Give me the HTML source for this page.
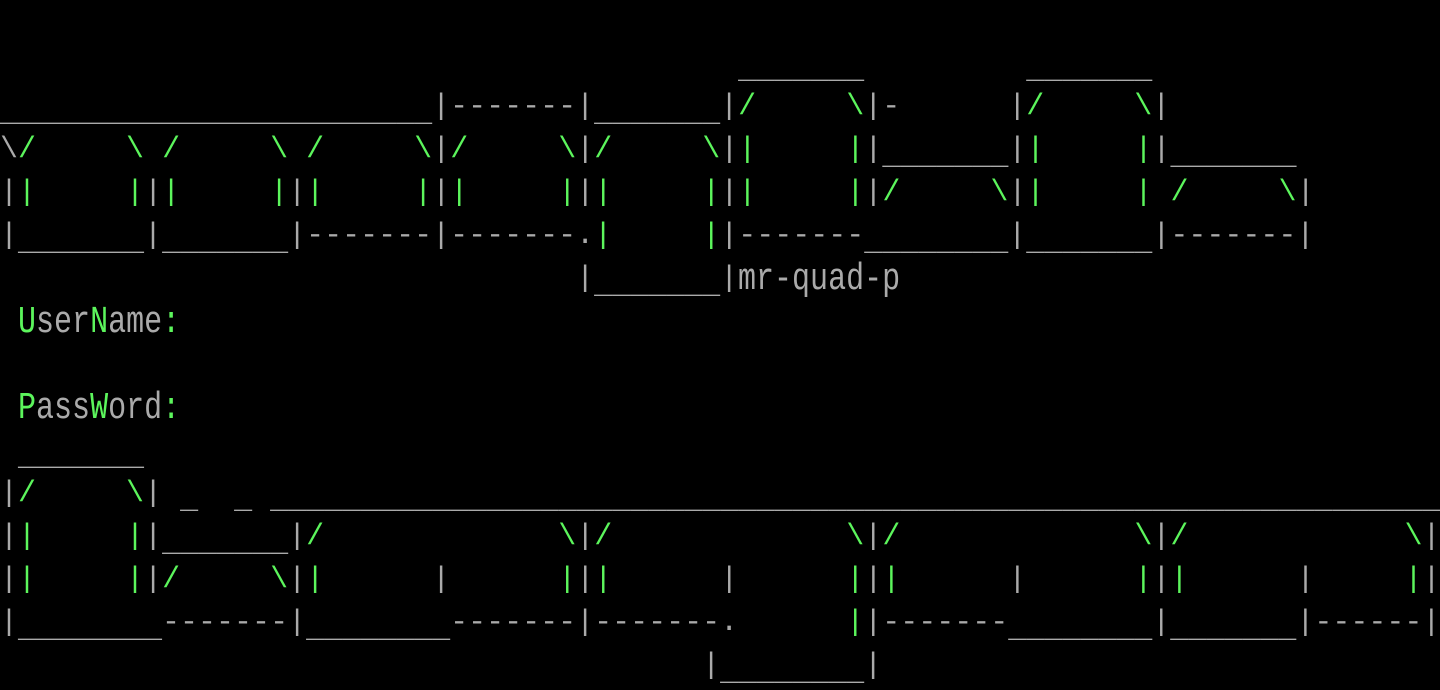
<!DOCTYPE html>
<html><head><meta charset="utf-8">
<style>
html,body{margin:0;padding:0;background:#000;}
#s{position:relative;width:1440px;height:690px;overflow:hidden;background:#000;}
.r{position:absolute;left:0;font-family:"Liberation Mono",monospace;font-size:30px;line-height:43px;height:43px;white-space:pre;color:#aaa;}
.r b{font-weight:normal;color:#5cf55c;}
.r i{font-style:normal;position:relative;top:7px;}
.t{position:absolute;font-family:"Liberation Mono",monospace;font-size:38px;line-height:43px;height:43px;white-space:pre;color:#aaa;transform:scaleX(0.79);transform-origin:0 0;}
.t b{font-weight:normal;color:#5cf55c;}
</style></head><body><div id="s">
<div class="r" style="top:43px">                                         <i>_______</i>         <i>_______</i></div>
<div class="r" style="top:86px"><i>________________________</i>|-------|<i>_______</i>|<b>/</b>     <b>\</b>|-      |<b>/</b>     <b>\</b>|</div>
<div class="r" style="top:129px">\<b>/</b>     <b>\</b> <b>/</b>     <b>\</b> <b>/</b>     <b>\</b>|<b>/</b>     <b>\</b>|<b>/</b>     <b>\</b>|<b>|</b>     <b>|</b>|<i>_______</i>|<b>|</b>     <b>|</b>|<i>_______</i></div>
<div class="r" style="top:172px">|<b>|</b>     <b>|</b>|<b>|</b>     <b>|</b>|<b>|</b>     <b>|</b>|<b>|</b>     <b>|</b>|<b>|</b>     <b>|</b>|<b>|</b>     <b>|</b>|<b>/</b>     <b>\</b>|<b>|</b>     <b>|</b> <b>/</b>     <b>\</b>|</div>
<div class="r" style="top:215px">|<i>_______</i>|<i>_______</i>|-------|-------.<b>|</b>     <b>|</b>|-------<i>________</i>|<i>_______</i>|-------|</div>
<div class="r" style="top:258px">                                |<i>_______</i>|</div>
<div class="t" style="top:258px;left:738px">mr-quad-p</div>
<div class="t" style="top:301px;left:18px"><b>U</b>ser<b>N</b>ame<b>:</b></div>
<div class="t" style="top:387px;left:18px"><b>P</b>ass<b>W</b>ord<b>:</b></div>
<div class="r" style="top:430px"> <i>_______</i></div>
<div class="r" style="top:473px">|<b>/</b>     <b>\</b>| <i>_</i>  <i>_</i> <i>_________________________________________________________________</i></div>
<div class="r" style="top:516px">|<b>|</b>     <b>|</b>|<i>_______</i>|<b>/</b>             <b>\</b>|<b>/</b>             <b>\</b>|<b>/</b>             <b>\</b>|<b>/</b>            <b>\</b>|</div>
<div class="r" style="top:559px">|<b>|</b>     <b>|</b>|<b>/</b>     <b>\</b>|<b>|</b>      |      <b>|</b>|<b>|</b>      |      <b>|</b>|<b>|</b>      |      <b>|</b>|<b>|</b>      |     <b>|</b>|</div>
<div class="r" style="top:602px">|<i>________</i>-------|<i>________</i>-------|-------.      <b>|</b>|-------<i>________</i>|<i>_______</i>|------|</div>
<div class="r" style="top:645px">                                       |<i>________</i>|</div>
</div></body></html>
